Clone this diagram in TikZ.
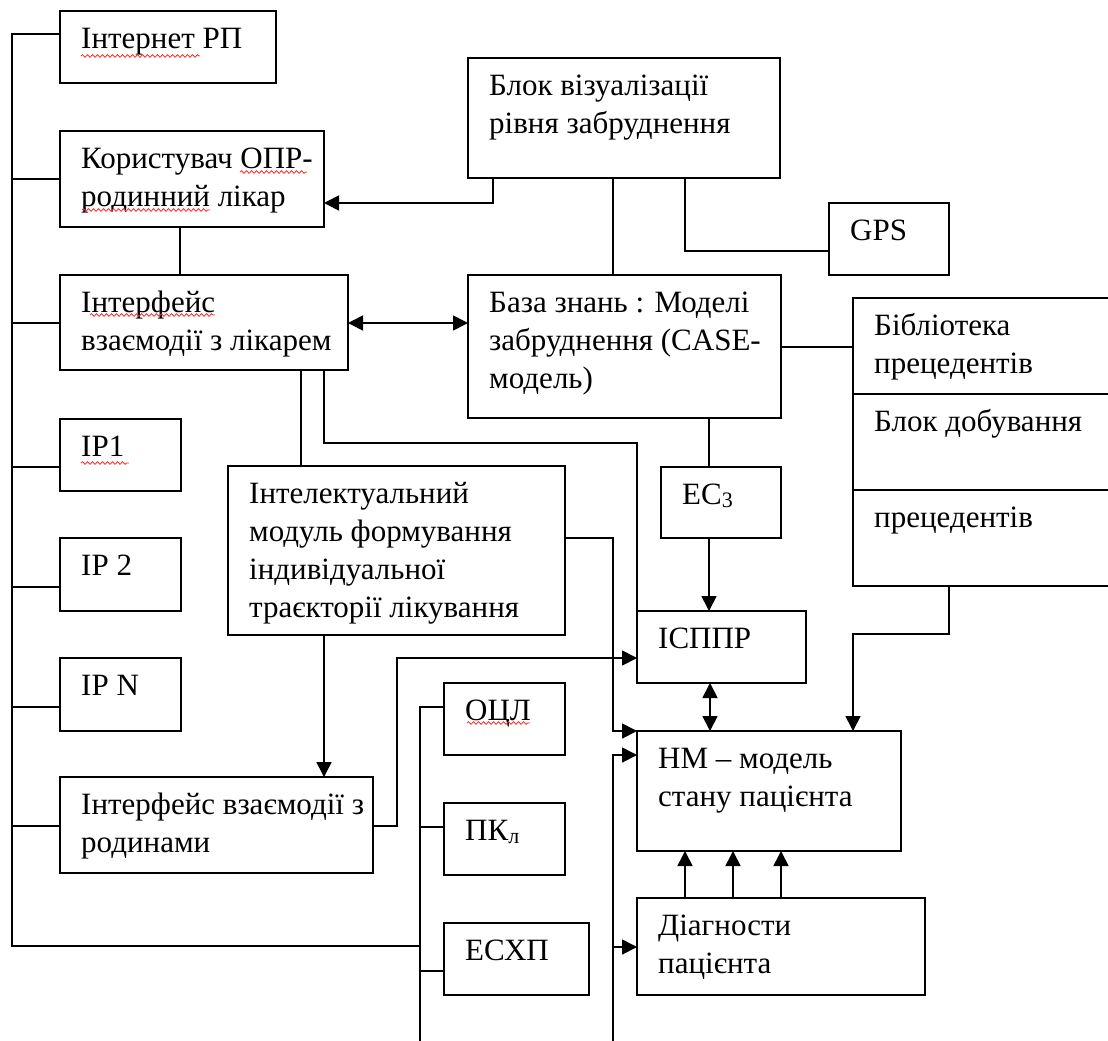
\documentclass[tikz,border=0pt]{standalone}
\usepackage{fontspec}
\setmainfont{Liberation Serif}
\usetikzlibrary{arrows.meta,fit,decorations.pathmorphing}
\tikzset{
  box/.style={draw, inner sep=0pt, outer sep=0pt, line width=1.7pt},
  txt/.style={anchor=north west, inner sep=0pt, align=left, font=\fontsize{31}{38}\selectfont},
  conn/.style={line width=1.7pt},
  arr/.style={line width=1.7pt, -{Triangle[length=15pt,width=15pt]}},
  darr/.style={line width=1.7pt, {Triangle[length=15pt,width=15pt]}-{Triangle[length=15pt,width=15pt]}},
  squig/.style={draw=red!85!white, line width=0.8pt, decorate, decoration={snake, amplitude=1.3pt, segment length=5pt}}
}
\newcommand\blk[6]{%
  \node[box, fit={(#2,#3) (#4,#5)}] (#1) {};
  \node[txt] (#1t) at ([xshift=21pt,yshift=-11pt]#1.north west) {\strut #6};}
\newcommand\smallsub[1]{\raisebox{-3pt}{\fontsize{22}{22}\selectfont #1}}
\begin{document}
\begin{tikzpicture}[x=1pt, y=-1pt]
\useasboundingbox (0,0) rectangle (1108,1041);
% boxes
\blk{internet}{60}{11}{276}{83}{Інтернет РП}
\blk{user}{60}{131}{324}{227}{Користувач ОПР-\\родинний лікар}
\blk{ifdoc}{60}{275}{348}{370}{Інтерфейс\\взаємодії з лікарем}
\blk{ipone}{60}{419}{181}{491}{IP1}
\blk{iptwo}{60}{538}{181}{611}{IP 2}
\blk{ipn}{60}{658}{181}{731}{IP N}
\blk{iffam}{60}{777}{373}{873}{Інтерфейс взаємодії з\\родинами}
\blk{vis}{468}{58}{780}{178}{Блок візуалізації\\рівня забруднення}
\blk{gps}{829}{203}{949}{275}{GPS}
\blk{kb}{468}{275}{781}{418}{База знань : Моделі\\забруднення (CASE-\\модель)}
\blk{libone}{853}{298}{1116}{394}{Бібліотека\\прецедентів}
\blk{libtwo}{853}{394}{1116}{490}{Блок добування}
\blk{libthree}{853}{490}{1116}{586}{прецедентів}
\blk{ec}{661}{467}{781}{538}{ЕС\smallsub{3}}
\blk{isppr}{637}{611}{806}{683}{ІСППР}
\blk{nm}{637}{731}{901}{851}{НМ – модель\\стану пацієнта}
\blk{diag}{637}{898}{925}{995}{Діагности\\пацієнта}
\blk{intel}{228}{466}{565}{635}{Інтелектуальний\\модуль формування\\індивідуальної\\траєкторії лікування}
\blk{ocl}{444}{683}{565}{755}{ОЦЛ}
\blk{pkl}{444}{803}{565}{875}{ПК\smallsub{л}}
\blk{eschp}{444}{923}{589}{995}{ЕСХП}
% left bus
\draw[conn] (internet.west |- 0,34) -- (12,34) -- (12,946) -- (420,946);
\draw[conn] (user.west) -- (12,179);
\draw[conn] (ifdoc.west |- 0,323) -- (12,323);
\draw[conn] (ipone.west |- 0,467) -- (12,467);
\draw[conn] (iptwo.west |- 0,587) -- (12,587);
\draw[conn] (ipn.west |- 0,707) -- (12,707);
\draw[conn] (iffam.west |- 0,826) -- (12,826);
% user - ifdoc
\draw[conn] (user.south -| 180,0) -- (ifdoc.north -| 180,0);
% vis connections
\draw[arr] (vis.south -| 493,0) |- (user.east |- 0,203);
\draw[conn] (vis.south -| 613,0) -- (kb.north -| 613,0);
\draw[conn] (vis.south -| 685,0) |- (gps.west |- 0,251);
% ifdoc <-> kb
\draw[darr] (ifdoc.east |- 0,323) -- (kb.west |- 0,323);
% kb - library
\draw[conn] (kb.east |- 0,347) -- (libone.west |- 0,347);
% kb - ec - isppr - nm
\draw[conn] (kb.south -| 709,0) -- (ec.north -| 709,0);
\draw[arr] (ec.south -| 709,0) -- (isppr.north -| 709,0);
\draw[darr] (isppr.south -| 710,0) -- (nm.north -| 710,0);
% library -> nm
\draw[arr] (libthree.south -| 949,0) -- (949,634) -| (nm.north -| 853,0);
% ifdoc -> intel, ifdoc -> isppr
\draw[conn] (ifdoc.south -| 301,0) -- (intel.north -| 301,0);
\draw[conn] (ifdoc.south -| 324,0) |- (isppr.north west |- 0,443) -- (isppr.north west);
% intel -> nm
\draw[arr] (intel.east |- 0,538) -| (613,731) -- (nm.west |- 0,731);
% intel -> iffam
\draw[arr] (intel.south -| 324,0) -- (iffam.north -| 324,0);
% iffam -> isppr
\draw[arr] (iffam.east |- 0,826) -| (397,658) -- (isppr.west |- 0,658);
% bus at 420
\draw[conn] (ocl.west |- 0,707) -| (420,1045);
\draw[conn] (pkl.west |- 0,827) -- (420,827);
\draw[conn] (eschp.west |- 0,971) -- (420,971);
% bus at 613
\draw[arr] (613,1045) |- (nm.west |- 0,755);
\draw[arr] (613,947) -- (diag.west |- 0,947);
% diag -> nm
\draw[arr] (diag.north -| 685,0) -- (nm.south -| 685,0);
\draw[arr] (diag.north -| 733,0) -- (nm.south -| 733,0);
\draw[arr] (diag.north -| 781,0) -- (nm.south -| 781,0);
% spell-check squiggles
\draw[squig] (81,56) -- (200,56);
\draw[squig] (240,172) -- (307,172);
\draw[squig] (82,210) -- (210,210);
\draw[squig] (90,315) -- (215,315);
\draw[squig] (81,463) -- (129,463);
\draw[squig] (467,723) -- (530,723);
\end{tikzpicture}
\end{document}
